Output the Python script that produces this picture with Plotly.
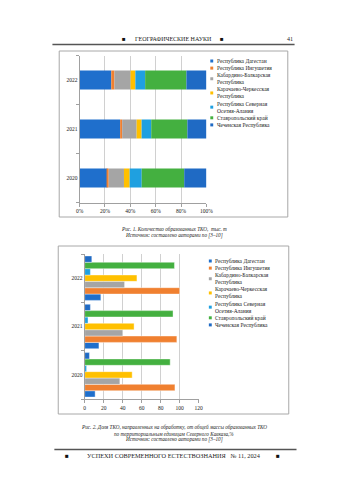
import plotly.graph_objects as go

# ---------------- data ----------------
years = ["2020", "2021", "2022"]
regions = [
    "Республика Дагестан",
    "Республика Ингушетия",
    "Кабардино-Балкарская Республика",
    "Карачаево-Черкесская Республика",
    "Республика Северная Осетия-Алания",
    "Ставропольский край",
    "Чеченская Республика",
]
# Fig. 1: share of generated MSW, % (2020, 2021, 2022)
share_dagestan = [22.0, 32.0, 25.0]
share_ingushetia = [1.0, 1.6, 2.5]
share_kbr = [12.0, 11.4, 12.7]
share_kchr = [4.5, 3.9, 3.8]
share_ossetia = [9.5, 7.6, 7.7]
share_stavropol = [33.5, 28.5, 32.5]
share_chechnya = [17.5, 15.0, 15.8]

# Fig. 2: share of MSW sent for processing, % (2020, 2021, 2022)
proc_dagestan = [11, 15, 17]
proc_ingushetia = [95, 97, 100]
proc_kbr = [37, 40, 42]
proc_kchr = [50, 52, 55]
proc_ossetia = [2, 3.5, 6]
proc_stavropol = [90, 93, 94.5]
proc_chechnya = [5, 6, 7.5]

pct_ticks = ["0%", "20%", "40%", "60%", "80%", "100%"]
num_ticks = ["0", "20", "40", "60", "80", "100", "120"]

colors = ["#1F6FCC", "#F08030", "#A5A5A5", "#FFC000", "#1FA0E0", "#44B040", "#1F6AC4"]

shares = [share_dagestan, share_ingushetia, share_kbr, share_kchr,
          share_ossetia, share_stavropol, share_chechnya]
procs = [proc_dagestan, proc_ingushetia, proc_kbr, proc_kchr,
         proc_ossetia, proc_stavropol, proc_chechnya]

# ---------------- page geometry helpers ----------------
W, H = 350, 495
def X(p):
    return p / W
def Y(p):
    return 1 - p / H

FONT = "Liberation Serif"
TXT = "#222222"

fig = go.Figure()

# Fig 1: stacked horizontal bars (bases accumulated from the data)
base = [0.0] * len(years)
for name, vals, col in zip(regions, shares, colors):
    fig.add_trace(go.Bar(
        y=years, x=vals, base=list(base), orientation="h", name=name,
        marker=dict(color=col, line=dict(width=0)),
        width=0.39, offset=-0.195, xaxis="x", yaxis="y", showlegend=False))
    base = [b + v for b, v in zip(base, vals)]

# Fig 2: grouped horizontal bars
n = len(regions)
span = 0.92
bw = span / n
for i, (name, vals, col) in enumerate(zip(regions, procs, colors)):
    fig.add_trace(go.Bar(
        y=years, x=vals, orientation="h", name=name,
        marker=dict(color=col, line=dict(width=0.4, color="white")),
        width=bw, offset=-span / 2 + i * bw, xaxis="x2", yaxis="y2",
        showlegend=False))

tickfont = dict(family=FONT, size=5.5, color=TXT)
axis_common = dict(showline=True, linecolor="#A0A0A0", linewidth=1,
                   ticks="outside", ticklen=3, tickcolor="#A0A0A0",
                   tickfont=tickfont, zeroline=False)

fig.update_layout(
    width=W, height=H,
    margin=dict(l=0, r=0, t=0, b=0),
    paper_bgcolor="white", plot_bgcolor="white",
    barmode="overlay",
    xaxis=dict(domain=[X(78), X(209)], anchor="y", range=[0, 100],
               tickvals=[0, 20, 40, 60, 80, 100], ticktext=pct_ticks,
               showgrid=True, gridcolor="#D0D0D0", gridwidth=1, **axis_common),
    yaxis=dict(domain=[Y(202.5), Y(55.5)], anchor="x", type="category",
               categoryorder="array", categoryarray=years,
               tickson="boundaries", showgrid=False, **axis_common),
    xaxis2=dict(domain=[X(83.3), X(201)], anchor="y2", range=[0, 120],
                tickvals=[0, 20, 40, 60, 80, 100, 120], ticktext=num_ticks,
                showgrid=True, gridcolor="#D0D0D0", gridwidth=1, **axis_common),
    yaxis2=dict(domain=[Y(399), Y(254)], anchor="x2", type="category",
                categoryorder="array", categoryarray=years,
                tickson="boundaries", showgrid=False, **axis_common),
)

shapes = []
annotations = []

# chart frames
shapes.append(dict(type="rect", xref="paper", yref="paper",
                   x0=X(57), x1=X(293), y0=Y(217), y1=Y(51),
                   line=dict(color="#A8A8A8", width=1), fillcolor="rgba(0,0,0,0)"))
shapes.append(dict(type="rect", xref="paper", yref="paper",
                   x0=X(56), x1=X(294), y0=Y(414), y1=Y(246),
                   line=dict(color="#A8A8A8", width=1), fillcolor="rgba(0,0,0,0)"))

# manual legends
def wrap(s):
    if len(s) > 22 and " " in s:
        k = s.rfind(" ")
        return s[:k] + "<br>" + s[k + 1:], 2
    return s, 1

def legend(y0, mx, tx, step=7.1):
    line = 0
    for name, col in zip(regions, colors):
        txt, nl = wrap(name)
        cy = y0 + (line + (nl - 1) / 2) * step
        shapes.append(dict(type="rect", xref="paper", yref="paper",
                           x0=X(mx - 1.5), x1=X(mx + 1.5),
                           y0=Y(cy + 1.5), y1=Y(cy - 1.5),
                           fillcolor=col, line=dict(width=0)))
        annotations.append(dict(xref="paper", yref="paper", x=X(tx), y=Y(cy),
                                xanchor="left", yanchor="middle", align="left",
                                text=txt, showarrow=False,
                                font=dict(family=FONT, size=5.5, color=TXT)))
        line += nl

legend(61, 214.5, 217.5)
legend(261, 213, 216)

def note(x, y, text, size, anchor="center", italic=False, color=TXT):
    annotations.append(dict(xref="paper", yref="paper", x=X(x), y=Y(y),
                            xanchor=anchor, yanchor="middle",
                            text=("<i>%s</i>" % text) if italic else text,
                            showarrow=False,
                            font=dict(family=FONT, size=size, color=color)))

# header
note(124, 39.5, "■", 6, color="#111111")
note(175, 39.5, "ГЕОГРАФИЧЕСКИЕ НАУКИ", 6)
note(225, 39.5, "■", 6, color="#111111")
note(300, 39.5, "41", 6, anchor="right")
shapes.append(dict(type="line", xref="paper", yref="paper",
                   x0=X(50), x1=X(300), y0=Y(44.5), y1=Y(44.5),
                   line=dict(color="#555555", width=1.3)))

# captions
note(175, 229, "Рис. 1. Количество образованных ТКО,  тыс. т", 5.2, italic=True)
note(175, 236, "Источник: составлено авторами по [3–10]", 5.2, italic=True)
note(175, 427, "Рис. 2. Доля ТКО, направленных на обработку, от общей массы образованных ТКО", 5.2, italic=True)
note(175, 433.5, "по территориальным единицам Северного Кавказа,%", 5.2, italic=True)
note(175, 439.5, "Источник: составлено авторами по [3–10]", 5.2, italic=True)

# footer
shapes.append(dict(type="line", xref="paper", yref="paper",
                   x0=X(52), x1=X(302), y0=Y(449.5), y1=Y(449.5),
                   line=dict(color="#555555", width=1.3)))
note(65, 455.5, "■", 6.3, color="#111111")
note(176, 455.5, "УСПЕХИ СОВРЕМЕННОГО ЕСТЕСТВОЗНАНИЯ   № 11, 2024", 6.3)
note(283, 455.5, "■", 6.3, color="#111111")

fig.update_layout(shapes=shapes, annotations=annotations)

fig.write_html("out.html")
